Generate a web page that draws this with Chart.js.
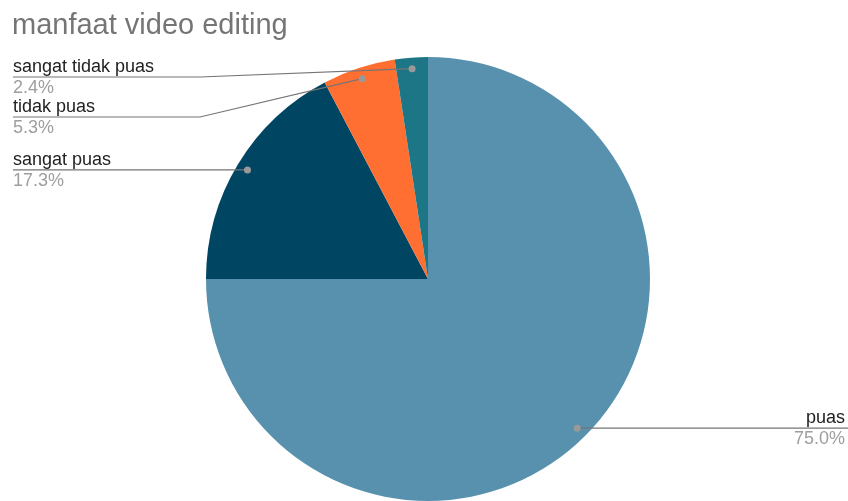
<!DOCTYPE html>
<html>
<head>
<meta charset="utf-8">
<script src="https://cdn.jsdelivr.net/npm/chart.js@4"></script>
<style>
  html, body { margin: 0; padding: 0; background: #fff; }
  #wrap { width: 848px; height: 501px; }
</style>
</head>
<body>
<div id="wrap"><canvas id="pieChart" width="848" height="501"></canvas></div>
<script>
const chartTitle = "manfaat video editing";
const categories = ["puas", "sangat puas", "tidak puas", "sangat tidak puas"];
const shares = [75.0, 17.3, 5.3, 2.4];
const sliceColors = ["#5891ad", "#004561", "#ff6f31", "#1c7685"];

const FONT = "'Liberation Sans', Arial, sans-serif";

// leader lines + labels like the sheets export
const calloutPlugin = {
  id: "callouts",
  afterDraw(chart) {
    const ctx = chart.ctx;
    const meta = chart.getDatasetMeta(0);
    const total = shares.reduce((a, b) => a + b, 0);
    const W = chart.width;

    ctx.save();
    ctx.font = "29px " + FONT;
    ctx.fillStyle = "#757575";
    ctx.textBaseline = "alphabetic";
    ctx.textAlign = "left";
    ctx.fillText(chartTitle, 12, 34);

    const items = meta.data.map((arc, i) => {
      const mid = (arc.startAngle + arc.endAngle) / 2;
      const r = arc.outerRadius * 0.95;
      return {
        i,
        x: arc.x + Math.cos(mid) * r,
        y: arc.y + Math.sin(mid) * r,
        left: Math.cos(mid) < 0
      };
    });

    // stack labels so they don't overlap
    const left = items.filter(d => d.left).sort((a, b) => a.y - b.y);
    let prev = -Infinity;
    left.forEach(d => {
      d.ly = Math.max(d.y, prev + 40, 77);
      prev = d.ly;
    });
    items.filter(d => !d.left).forEach(d => { d.ly = d.y; });

    items.forEach(d => {
      const endX = d.left ? 13 : W;
      const elbowX = d.left ? 200 : W - 200;
      ctx.strokeStyle = "#757575";
      ctx.lineWidth = 1.2;
      ctx.beginPath();
      ctx.moveTo(d.x, d.y);
      if (Math.abs(d.ly - d.y) > 0.5) ctx.lineTo(elbowX, d.ly);
      ctx.lineTo(endX, d.ly);
      ctx.stroke();

      ctx.fillStyle = "#999999";
      ctx.beginPath();
      ctx.arc(d.x, d.y, 3.5, 0, Math.PI * 2);
      ctx.fill();

      ctx.textAlign = d.left ? "left" : "right";
      const tx = d.left ? 13 : W - 3;
      ctx.font = "18px " + FONT;
      ctx.fillStyle = "#222222";
      ctx.fillText(categories[d.i], tx, d.ly - 5);
      ctx.fillStyle = "#9e9e9e";
      ctx.fillText((shares[d.i] / total * 100).toFixed(1) + "%", tx, d.ly + 16);
    });
    ctx.restore();
  }
};

const ctxPie = document.getElementById("pieChart").getContext("2d");
new Chart(ctxPie, {
  type: "pie",
  data: {
    labels: categories,
    datasets: [{
      data: shares,
      backgroundColor: sliceColors,
      borderWidth: 0
    }]
  },
  options: {
    responsive: false,
    animation: false,
    layout: { padding: { top: 57, bottom: 0, left: 206, right: 198 } },
    plugins: {
      legend: { display: false },
      tooltip: { enabled: false }
    }
  },
  plugins: [calloutPlugin]
});
</script>
</body>
</html>
